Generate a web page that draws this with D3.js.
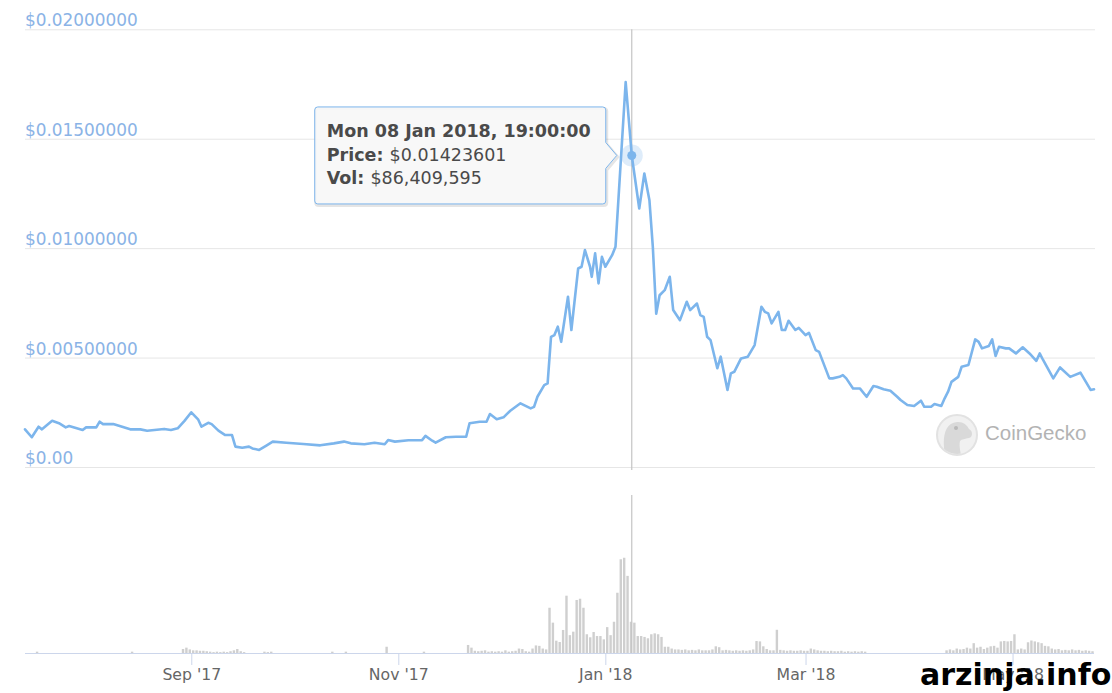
<!DOCTYPE html>
<html>
<head>
<meta charset="utf-8">
<script src="https://cdn.jsdelivr.net/npm/d3@7"></script>
<style>
  body { margin: 0; background: #fff; }
  svg { display: block; font-family: "DejaVu Sans", Verdana, sans-serif; }
</style>
</head>
<body>
<div id="chart"></div>
<script>
/* Price line: dates and price in USD */
var priceDates = [
  "2017-07-14","2017-07-16","2017-07-18","2017-07-19","2017-07-22","2017-07-24","2017-07-26","2017-07-27","2017-07-31",
  "2017-08-01","2017-08-04","2017-08-05","2017-08-06","2017-08-09","2017-08-14","2017-08-17","2017-08-19","2017-08-24","2017-08-26","2017-08-28","2017-08-30",
  "2017-09-01","2017-09-03","2017-09-04","2017-09-06","2017-09-07","2017-09-09","2017-09-11","2017-09-13","2017-09-14","2017-09-16","2017-09-18","2017-09-19","2017-09-21","2017-09-23","2017-09-25","2017-09-29",
  "2017-10-04","2017-10-09","2017-10-13","2017-10-16","2017-10-18","2017-10-22","2017-10-25","2017-10-28","2017-10-29","2017-10-31",
  "2017-11-04","2017-11-08","2017-11-09","2017-11-11","2017-11-12","2017-11-15","2017-11-18","2017-11-21","2017-11-22","2017-11-25","2017-11-27","2017-11-28","2017-11-30",
  "2017-12-02","2017-12-04","2017-12-07","2017-12-10","2017-12-11","2017-12-12","2017-12-14","2017-12-15","2017-12-16","2017-12-17","2017-12-18","2017-12-19","2017-12-21","2017-12-22","2017-12-24","2017-12-25","2017-12-26","2017-12-27 12:00","2017-12-28","2017-12-29","2017-12-30","2017-12-31",
  "2018-01-01","2018-01-03","2018-01-04","2018-01-07","2018-01-08 19:00","2018-01-11","2018-01-12 12:00","2018-01-14","2018-01-15","2018-01-16","2018-01-17","2018-01-18 12:00","2018-01-20","2018-01-21","2018-01-23","2018-01-25","2018-01-26","2018-01-28","2018-01-29","2018-01-30","2018-01-31",
  "2018-02-01","2018-02-03","2018-02-04","2018-02-06","2018-02-07","2018-02-08","2018-02-10","2018-02-12","2018-02-14","2018-02-16","2018-02-17","2018-02-18","2018-02-19","2018-02-21","2018-02-22","2018-02-23","2018-02-24","2018-02-26","2018-02-27",
  "2018-03-01","2018-03-02","2018-03-04","2018-03-05","2018-03-08","2018-03-09","2018-03-11","2018-03-12","2018-03-13","2018-03-15","2018-03-17","2018-03-19","2018-03-21","2018-03-22","2018-03-24","2018-03-26","2018-03-28","2018-03-29","2018-03-31",
  "2018-04-02","2018-04-04","2018-04-05","2018-04-07","2018-04-08","2018-04-10","2018-04-11","2018-04-12","2018-04-13","2018-04-15","2018-04-16","2018-04-18","2018-04-20","2018-04-21","2018-04-22","2018-04-24","2018-04-25","2018-04-26","2018-04-27","2018-04-29","2018-04-30",
  "2018-05-02","2018-05-04","2018-05-06","2018-05-08","2018-05-09","2018-05-10","2018-05-13","2018-05-15","2018-05-18","2018-05-21","2018-05-22","2018-05-24","2018-05-25"
];
var priceValues = [
  0.00172,0.00136,0.00184,0.00172,0.00211,0.00200,0.00181,0.00187,0.00169,
  0.00181,0.00181,0.00207,0.00196,0.00196,0.00172,0.00172,0.00166,0.00174,0.00169,0.00177,0.00211,
  0.00250,0.00218,0.00184,0.00202,0.00196,0.00166,0.00146,0.00146,0.00093,0.00088,0.00093,0.00085,0.00078,0.00097,0.00116,0.00111,
  0.00105,0.00099,0.00108,0.00116,0.00108,0.00104,0.00111,0.00104,0.00123,0.00116,
  0.00122,0.00123,0.00142,0.00120,0.00111,0.00136,0.00138,0.00138,0.00200,0.00207,0.00207,0.00242,0.00218,
  0.00227,0.00257,0.00291,0.00268,0.00275,0.00321,0.00374,0.00382,0.00595,0.00603,0.00641,0.00572,0.00778,0.00626,0.00907,0.00915,0.00991,0.00915,0.00869,0.00976,0.00839,0.00960,
  0.00915,0.00968,0.01006,0.01759,0.01423601,0.01181,0.01341,0.01219,0.01006,0.00700,0.00785,0.00808,0.00869,0.00717,0.00671,0.00755,0.00717,0.00747,0.00694,0.00686,0.00595,
  0.00580,0.00451,0.00504,0.00352,0.00428,0.00435,0.00496,0.00504,0.00557,0.00732,0.00709,0.00702,0.00656,0.00709,0.00626,0.00626,0.00668,0.00626,0.00636,
  0.00603,0.00613,0.00534,0.00526,0.00405,0.00405,0.00412,0.00420,0.00405,0.00359,0.00359,0.00321,0.00370,0.00367,0.00355,0.00348,0.00321,0.00306,0.00283,
  0.00279,0.00303,0.00275,0.00275,0.00288,0.00279,0.00314,0.00344,0.00389,0.00412,0.00458,0.00466,0.00583,0.00572,0.00542,0.00553,0.00583,0.00507,0.00549,0.00542,0.00542,
  0.00519,0.00547,0.00519,0.00485,0.00519,0.00489,0.00405,0.00455,0.00412,0.00431,0.00405,0.00352,0.00355
];

/* Daily 24h volume in millions of USD, one value per day from volStart */
var volStart = "2017-07-14";
var volumes = [
  0,0,0,0,1.5,0,0,0,0,0,0,0,0,0,0,0,0,0,
  0,0,0,0,0,0,0,0,0,0,0,0,0,0,1.5,0,0,0,0,0,0,0,0,0,0,0,0,0,0,4.5,6,
  4,3,3,2.5,2.5,2,1.5,1,1.5,1,1.5,1,2,3,4.5,2,1,0,0,0,0,0,1.5,1,1.5,0,0,0,0,0,
  0,0,0,0,0,0,0,0,0,0,0,0,1.5,0,0,0,1.5,0,0,0,0,0,0,0,0,0,0,0,7,0,0,
  0,0,0,0,0,0,0,0,1.5,0,0,0,0,0,0,0,0,0,0,0,0,9,6,2.5,2,2.5,3,1.5,2,1.5,
  2,1.5,3,1.5,2,2.5,5,4.5,2,1.5,5,8.5,8,5,4,50.7,34,13.8,12.3,25.8,64.2,20,23.9,59.4,60.8,50.7,21,17.6,23.5,19,19,
  15.3,29,20,35,67.5,105,106.7,86.4,35,34,19,19,18,16.5,21,22,21,18,7,7,5,4,4,3.5,4,3,3.5,3,4,3,3,
  3,4,7.5,6.5,3,3.5,3,2.5,3,2.5,3,2.5,3,4,13.4,13,7.5,4.5,3,3,26,3.5,3,2.5,3,2.5,2.5,3,
  2.5,2.5,5,4,3,2.5,2.5,2,2.5,2,2,2.5,1.5,2,1.5,2,1.5,2,1.5,0,0,0,0,0,0,0,0,0,0,0,0,
  0,0,0,0,0,0,0,0,0,0,0,3,4,3,5,4,4.5,6,5,11,6,7,4.5,6,7.5,8,6,13,13.5,13,
  13.5,21,4,5,4,12,14,13,12,11,8,7.5,5,4,4.5,3,3.5,3,4,3,3.5,2.5,3,2.5,2
];

var priceTicks = [0, 0.005, 0.01, 0.015, 0.02];
var priceTickLabels = ["$0.00", "$0.00500000", "$0.01000000", "$0.01500000", "$0.02000000"];
var monthTicks = ["2017-09-01", "2017-11-01", "2018-01-01", "2018-03-01", "2018-05-01"];
var monthLabels = ["Sep '17", "Nov '17", "Jan '18", "Mar '18", "May '18"];

/* hovered point shown in the tooltip */
var hoverDate = "2018-01-08 19:00";
var hoverPrice = 0.01423601;
var hoverVol = 86409595;

var W = 1112, H = 693;
var left = 25, right = 1094;
var priceTop = 29.3, priceBottom = 467;
var volTop = 495, volBottom = 653;

var parseDay = d3.timeParse("%Y-%m-%d");
var parseHour = d3.timeParse("%Y-%m-%d %H:%M");
function parseDate(s) { return s.length > 10 ? parseHour(s) : parseDay(s); }

var prices = priceDates.map(function(d, i) {
	return { date: parseDate(d), price: priceValues[i] };
});
var start = parseDay(volStart);
var vols = volumes.map(function(v, i) {
	return { date: d3.timeDay.offset(start, i), vol: v };
});

var x = d3.scaleTime()
	.domain([parseDay("2017-07-14"), parseDay("2018-05-25")])
	.range([left, right]);
var y = d3.scaleLinear().domain([0, 0.02]).range([priceBottom, priceTop]);
var yv = d3.scaleLinear().domain([0, 177]).range([volBottom, volTop]);

var svg = d3.select("#chart").append("svg")
	.attr("width", W)
	.attr("height", H);

svg.append("rect").attr("width", W).attr("height", H).attr("fill", "#fff");

/* price grid + labels */
var yAxis = svg.append("g")
	.attr("transform", "translate(" + left + ",0)")
	.call(d3.axisRight(y)
		.tickValues(priceTicks)
		.tickSize(right - left + 1)
		.tickFormat(function(d, i) { return priceTickLabels[i]; }));
yAxis.select(".domain").remove();
yAxis.selectAll(".tick line").attr("stroke", "#e6e6e6").attr("stroke-width", 1);
yAxis.selectAll(".tick text")
	.attr("x", 0)
	.attr("dy", 0)
	.attr("y", -3.5)
	.attr("text-anchor", "start")
	.attr("fill", "#8ab3e6")
	.attr("font-size", 16.9)
	.attr("font-family", "DejaVu Sans, Verdana, sans-serif");

/* CoinGecko mark */
var logo = svg.append("g").attr("transform", "translate(957,435)");
logo.append("clipPath").attr("id", "logoClip")
	.append("circle").attr("r", 19);
logo.append("circle").attr("r", 20)
	.attr("fill", "#f1f1f1")
	.attr("stroke", "#e2e2e2")
	.attr("stroke-width", 2);
logo.append("path")
	.attr("clip-path", "url(#logoClip)")
	.attr("d", "M-12,20 C-15,4 -13,-12 0,-13 C6,-13.5 10,-10 12,-6 C16,-4 16,2 12,3 C8,4 5,4 3,6 C2,10 3,15 4,20 Z")
	.attr("fill", "#d9d9d9");
logo.append("circle").attr("cx", -1).attr("cy", -7).attr("r", 2).attr("fill", "#b9b9b9");
svg.append("text")
	.attr("x", 985)
	.attr("y", 440)
	.attr("font-family", "Liberation Sans, Arial, sans-serif")
	.attr("font-size", 20.5)
	.attr("fill", "#b3b3b3")
	.text("CoinGecko");

/* volume bars */
svg.append("g").selectAll("rect")
	.data(vols.filter(function(d) { return d.vol > 0; }))
	.enter().append("rect")
	.attr("x", function(d) { return x(d.date) - 2.7; })
	.attr("width", 2.4)
	.attr("y", function(d) { return yv(d.vol); })
	.attr("height", function(d) { return volBottom - yv(d.vol); })
	.attr("fill", "#cfcfcf");

/* time axis under the volume panel */
var xAxis = svg.append("g")
	.attr("transform", "translate(0," + volBottom + ")")
	.call(d3.axisBottom(x)
		.tickValues(monthTicks.map(parseDay))
		.tickSize(12)
		.tickPadding(4)
		.tickFormat(function(d, i) { return monthLabels[i]; }));
xAxis.select(".domain")
	.attr("stroke", "#ccd6eb")
	.attr("d", "M" + left + ",0.5H" + right);
xAxis.selectAll(".tick line").attr("stroke", "#ccd6eb");
xAxis.selectAll(".tick text")
	.attr("fill", "#666")
	.attr("font-size", 15.7)
	.attr("font-family", "DejaVu Sans, Verdana, sans-serif");

/* crosshair */
var hx = x(parseDate(hoverDate)), hy = y(hoverPrice);
svg.append("line")
	.attr("x1", hx).attr("x2", hx)
	.attr("y1", priceTop).attr("y2", priceBottom + 3)
	.attr("stroke", "#c4c4c4").attr("stroke-width", 1.2);
svg.append("line")
	.attr("x1", hx).attr("x2", hx)
	.attr("y1", volTop).attr("y2", volBottom)
	.attr("stroke", "#c4c4c4").attr("stroke-width", 1.2);

/* price line */
var line = d3.line()
	.x(function(d) { return x(d.date); })
	.y(function(d) { return y(d.price); });
svg.append("path")
	.datum(prices)
	.attr("d", line)
	.attr("fill", "none")
	.attr("stroke", "#7cb5ec")
	.attr("stroke-width", 2.6)
	.attr("stroke-linejoin", "round")
	.attr("stroke-linecap", "round");

/* hover marker */
svg.append("circle").attr("cx", hx).attr("cy", hy).attr("r", 11)
	.attr("fill", "#7cb5ec").attr("fill-opacity", 0.25);
svg.append("circle").attr("cx", hx).attr("cy", hy).attr("r", 4.5)
	.attr("fill", "#7cb5ec");

/* tooltip */
var tw = 291, th = 97, r = 3;
var R = hx - 26, L = R - tw, T = hy - 48.5, B = T + th, tipX = hx - 15;
function tipPath() {
	return "M" + (L + r) + "," + T +
		"H" + (R - r) + "Q" + R + "," + T + " " + R + "," + (T + r) +
		"V" + (hy - 13) + "L" + tipX + "," + hy + "L" + R + "," + (hy + 13) +
		"V" + (B - r) + "Q" + R + "," + B + " " + (R - r) + "," + B +
		"H" + (L + r) + "Q" + L + "," + B + " " + L + "," + (B - r) +
		"V" + (T + r) + "Q" + L + "," + T + " " + (L + r) + "," + T + "Z";
}
svg.append("path").attr("d", tipPath())
	.attr("transform", "translate(1,1.5)")
	.attr("fill", "none")
	.attr("stroke", "rgba(0,0,0,0.10)")
	.attr("stroke-width", 3);
svg.append("path").attr("d", tipPath())
	.attr("fill", "rgba(247,247,247,0.92)")
	.attr("stroke", "#7cb5ec")
	.attr("stroke-width", 1);

var fmtTime = d3.timeFormat("%a %d %b %Y, %H:%M:%S");
var tip = svg.append("text")
	.attr("font-family", "DejaVu Sans, Verdana, sans-serif")
	.attr("font-size", 17.5)
	.attr("fill", "#4a4a4a");
tip.append("tspan").attr("x", L + 12).attr("y", T + 30)
	.attr("font-weight", "bold")
	.text(fmtTime(parseDate(hoverDate)));
tip.append("tspan").attr("x", L + 12).attr("y", T + 54.5)
	.attr("font-weight", "bold").text("Price: ");
tip.append("tspan").text("$" + hoverPrice.toFixed(8));
tip.append("tspan").attr("x", L + 12).attr("y", T + 77.5)
	.attr("font-weight", "bold").text("Vol: ");
tip.append("tspan").text("$" + d3.format(",")(hoverVol));

/* site watermark (sits over the May label, as in the source) */
svg.append("text")
	.attr("x", 920)
	.attr("y", 685)
	.attr("font-family", "DejaVu Sans, Verdana, sans-serif")
	.attr("font-weight", "bold")
	.attr("font-size", 30)
	.attr("fill", "#000")
	.text("arzinja.info");
</script>
</body>
</html>
